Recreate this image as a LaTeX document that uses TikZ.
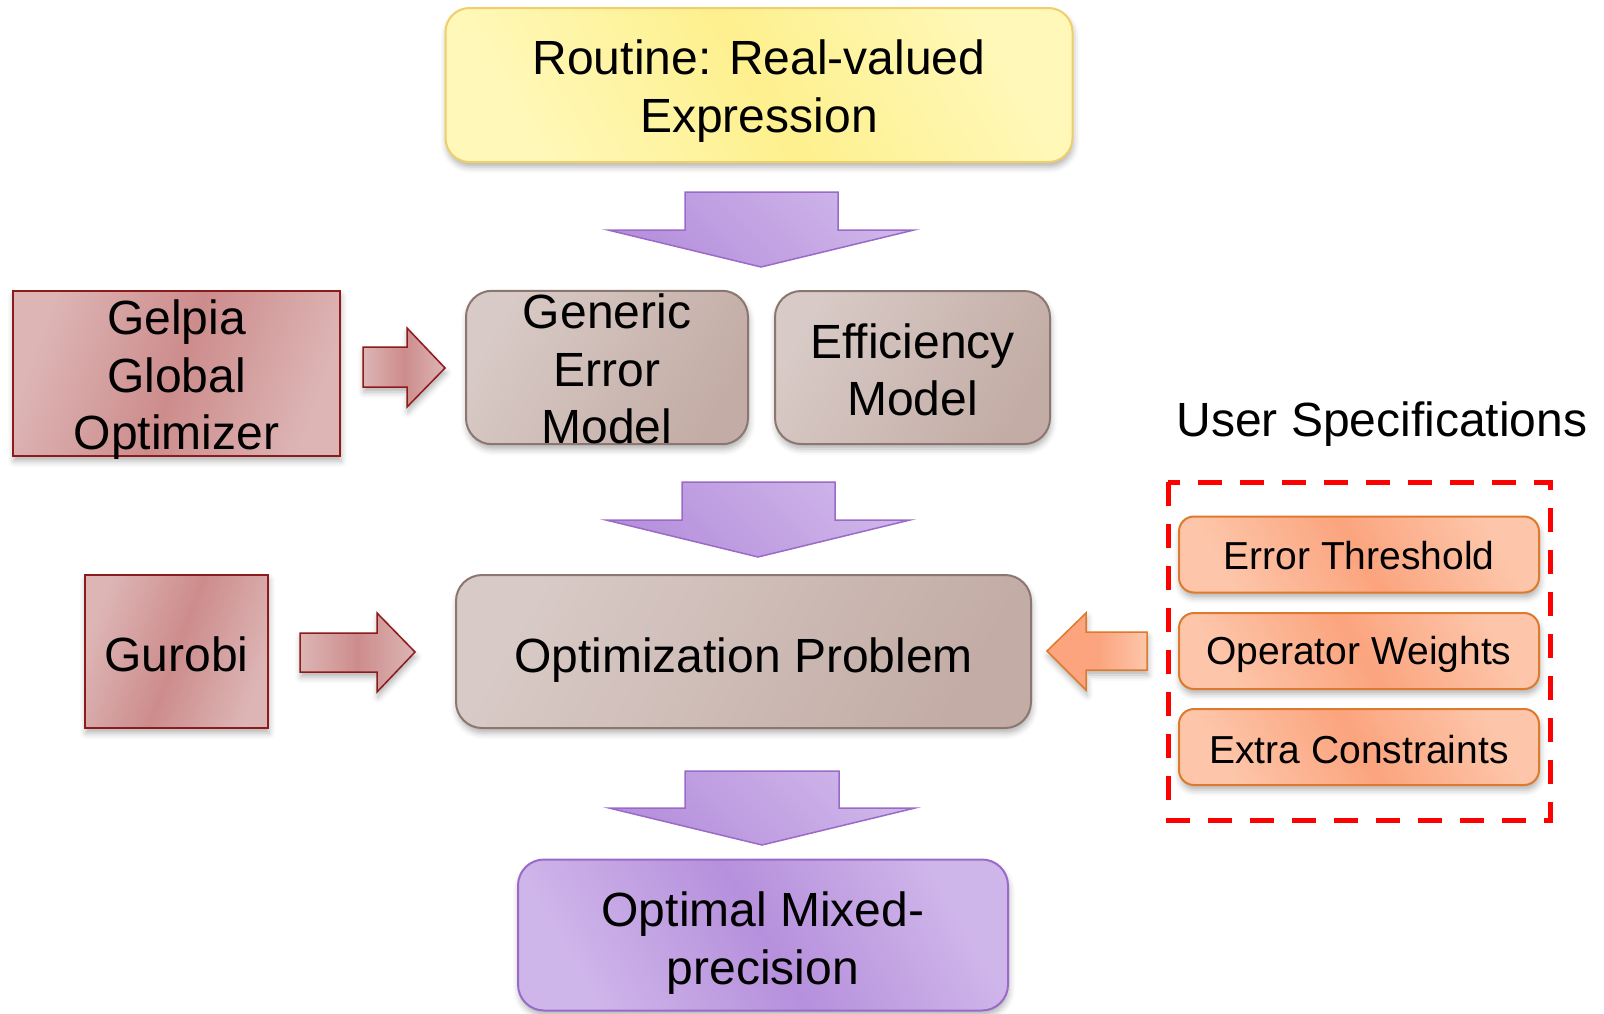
\documentclass[tikz,border=0pt]{standalone}
\usepackage{fontspec}
\setmainfont{Liberation Sans}
\usetikzlibrary{shadows.blur}
\definecolor{yelL}{HTML}{FFF8B8}
\definecolor{yelD}{HTML}{FEF08E}
\definecolor{yelB}{HTML}{F0CF6A}
\definecolor{purL}{HTML}{CFB6EA}
\definecolor{purD}{HTML}{B690DC}
\definecolor{purB}{HTML}{9A6AC8}
\definecolor{redL}{HTML}{DDB5B5}
\definecolor{redD}{HTML}{CD8C8C}
\definecolor{redB}{HTML}{8E1B1B}
\definecolor{brnL}{HTML}{D8CAC6}
\definecolor{brnD}{HTML}{C3ACA5}
\definecolor{brnB}{HTML}{8C7670}
\definecolor{orgL}{HTML}{FDC6AA}
\definecolor{orgD}{HTML}{FBA47E}
\definecolor{orgB}{HTML}{DD7A2E}
\newcommand{\tdn}[1]{\rule{0pt}{\dimexpr 35pt+#1*2\relax}}
\tikzset{
  bigtext/.style={font=\fontsize{48}{57.5}\selectfont, align=center, text=black},
  smalltext/.style={font=\fontsize{39}{46}\selectfont, align=center, text=black},
  tdown/.style={execute at begin node={\rule{0pt}{\dimexpr 35pt+#1*2\relax}}},
  tdowns/.style={execute at begin node={\rule{0pt}{\dimexpr 28pt+#1*2\relax}}},
  shad/.style={blur shadow={shadow xshift=1pt, shadow yshift=-5pt, shadow blur radius=6pt, shadow opacity=30}},
  boxbase/.style={draw, line width=2pt, inner sep=0pt, shad},
  yellowbox/.style={boxbase, bigtext, rounded corners=24pt, draw=yelB, top color=yelL, bottom color=yelL, middle color=yelD, shading angle=-60},
  redbox/.style={boxbase, bigtext, draw=redB, left color=redL, right color=redL, middle color=redD, shading angle=70},
  brownbox/.style={boxbase, bigtext, rounded corners=26pt, draw=brnB, top color=brnD, bottom color=brnL, shading angle=-120},
  purplebox/.style={boxbase, bigtext, rounded corners=26pt, draw=purB, top color=purL, bottom color=purL, middle color=purD, shading angle=-60},
  orangebox/.style={boxbase, smalltext, rounded corners=15pt, draw=orgB, top color=orgL, bottom color=orgL, middle color=orgD, shading angle=-60},
  purplearrow/.style={draw=purB, line width=1.5pt, top color=purL, bottom color=purD, shading angle=-45, line join=miter},
  redarrow/.style={draw=redB, line width=1.5pt, left color=redL, right color=redL, middle color=redD, shading angle=90, shad, line join=miter},
  orangearrow/.style={draw=orgB, line width=1.5pt, left color=orgD, right color=orgL, middle color=orgD, shading angle=90, shad, line join=miter},
  specframe/.style={draw=red, line width=5pt, dash pattern=on 24pt off 18pt},
}
\begin{document}
\begin{tikzpicture}[x=1pt, y=-1pt]
\useasboundingbox (0,0) rectangle (1604,1013);

% nodes
\node[yellowbox, minimum width=627pt, minimum height=154pt] (routine) at (759,85) {\tdn{6pt}Routine: Real-valued\\Expression};
\node[redbox, text depth=0pt, minimum width=327pt, minimum height=165pt] (gelpia) at (176.5,373.5) {\tdn{1pt}Gelpia\\Global\\Optimizer};
\node[brownbox, minimum width=282pt, minimum height=153pt] (generic) at (607,367.5) {\tdn{1.5pt}Generic\\Error\\Model};
\node[brownbox, minimum width=275pt, minimum height=153pt] (eff) at (912.5,367.5) {\tdn{2pt}Efficiency\\Model};
\node[redbox, tdown=3pt, minimum width=183pt, minimum height=153pt] (gurobi) at (176.5,651.5) {Gurobi};
\node[brownbox, tdown=8pt, minimum width=575pt, minimum height=153pt] (opt) at (743.5,651.5) {Optimization Problem};
\node[purplebox, minimum width=490pt, minimum height=151pt] (result) at (763,935) {\tdn{8pt}Optimal Mixed-\\precision};

\node[bigtext, anchor=center] (userspec) at (1382,424) {User Specifications};
\node[orangebox, tdowns=1pt, minimum width=360pt, minimum height=76pt] (thr) at (1359,554.5) {Error Threshold};
\node[orangebox, tdowns=4pt, minimum width=360pt, minimum height=76pt] (wts) at (1359,651) {Operator Weights};
\node[orangebox, tdowns=3pt, minimum width=360pt, minimum height=76pt] (extra) at (1359,747) {Extra Constraints};
\draw[specframe] (1168,482) rectangle (1550,820);

% block arrows
\path[purplearrow] (685,192) -- (838,192) -- (838,230) -- (914,230) -- (761,267) -- (608,230) -- (685,230) -- cycle;
\path[purplearrow] (682,482) -- (835,482) -- (835,520) -- (910,520) -- (758,557) -- (606,520) -- (682,520) -- cycle;
\path[purplearrow] (685,771) -- (839,771) -- (839,808) -- (915,808) -- (762,845) -- (609,808) -- (685,808) -- cycle;

\path[redarrow] (363,347) -- (407,347) -- (407,328) -- (445,368) -- (407,407) -- (407,387) -- (363,387) -- cycle;
\path[redarrow] (300,633) -- (377,633) -- (377,613) -- (415,652) -- (377,692) -- (377,672) -- (300,672) -- cycle;
\path[orangearrow] (1147,632) -- (1086,632) -- (1086,613) -- (1047,651) -- (1086,690) -- (1086,670) -- (1147,670) -- cycle;
\end{tikzpicture}
\end{document}
